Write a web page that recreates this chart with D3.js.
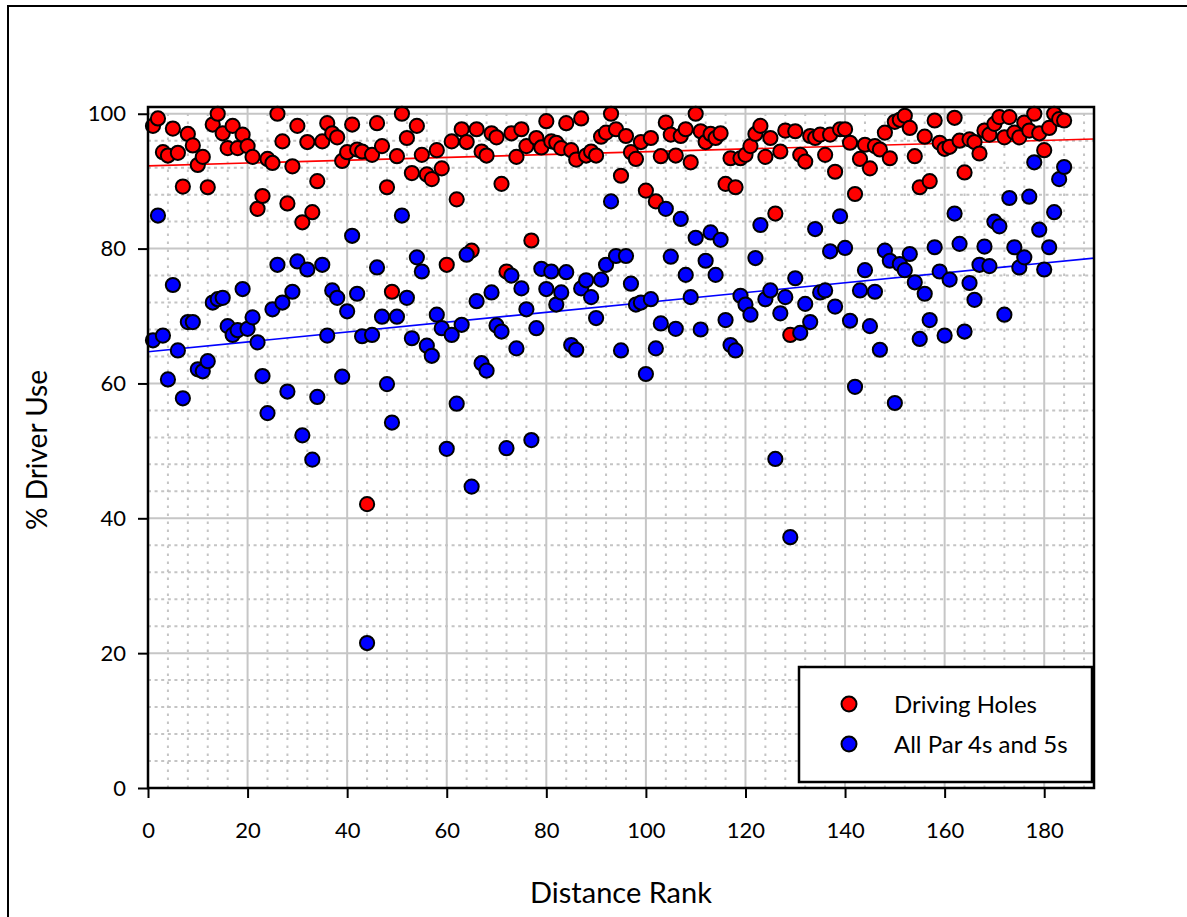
<!DOCTYPE html>
<html><head><meta charset="utf-8">
<script src="https://cdn.jsdelivr.net/npm/d3@7"></script>
<style>
body{margin:0;background:#fff}
svg{display:block}
text{font-family:Lato,"Open Sans",sans-serif;fill:#000}
</style>
</head><body>
<svg id="c" width="1187" height="917"></svg>
<script>
// ---- data ----
const ranks = d3.range(1, 185);
const drivingHoles = [
98.2,99.3,94.3,93.8,97.8,94.2,89.2,97.0,95.3,92.4,
93.6,89.1,98.4,100,97.1,94.9,98.2,94.9,96.9,95.2,
93.6,85.9,87.8,93.3,92.7,100,95.9,86.7,92.2,98.2,
83.9,95.8,85.4,90.0,95.9,98.6,97.1,96.5,93.0,94.3,
98.4,94.7,94.4,42.1,93.9,98.6,95.2,89.1,73.6,93.7,
100,96.4,91.2,98.2,93.9,91.0,90.3,94.6,91.9,77.6,
95.9,87.3,97.7,95.8,79.7,97.7,94.4,93.8,97.1,96.5,
89.6,76.6,97.1,93.6,97.7,95.2,81.2,96.4,95.0,98.9,
95.9,95.7,94.9,98.6,94.6,93.2,99.3,93.8,94.4,93.8,
96.6,97.2,100,97.7,90.8,96.7,94.3,93.3,95.8,88.6,
96.4,87.0,93.7,98.7,96.9,93.8,96.7,97.7,92.8,100,
97.4,95.8,97.0,96.4,97.1,89.6,93.4,89.1,93.4,93.9,
95.2,97.0,98.2,93.6,96.4,85.2,94.4,97.5,67.2,97.4,
93.9,92.9,96.7,96.4,96.9,93.9,96.9,91.4,97.7,97.7,
95.7,88.1,93.3,95.4,91.9,95.2,94.7,97.2,93.4,98.8,
99.1,99.7,97.9,93.7,89.1,96.6,90.0,99.0,95.7,94.8,
95.1,99.4,96.0,91.3,96.2,95.8,94.1,97.5,96.9,98.5,
99.5,96.5,99.5,97.2,96.5,98.7,97.5,100,97.1,94.6,
97.9,100,99.2,99.0];
const allPar45 = [
66.4,84.9,67.1,60.6,74.6,64.9,57.8,69.1,69.1,62.1,
61.8,63.3,72.0,72.5,72.7,68.5,67.2,67.9,74.0,68.1,
69.8,66.1,61.1,55.6,71.0,77.6,72.0,58.8,73.6,78.1,
52.3,76.9,48.7,58.0,77.6,67.1,73.8,72.7,61.0,70.7,
81.9,73.3,67.0,21.5,67.2,77.2,69.9,59.9,54.2,69.9,
84.9,72.7,66.7,78.7,76.6,65.6,64.1,70.2,68.2,50.3,
67.2,57.0,68.7,79.1,44.7,72.2,63.0,61.9,73.5,68.6,
67.7,50.4,76.0,65.2,74.1,71.0,51.6,68.2,77.0,74.0,
76.6,71.7,73.5,76.5,65.7,65.0,74.1,75.3,72.8,69.7,
75.4,77.6,87.0,78.9,64.9,78.9,74.8,71.7,72.0,61.4,
72.5,65.2,68.9,85.9,78.8,68.1,84.4,76.1,72.8,81.6,
68.0,78.2,82.4,76.1,81.3,69.4,65.7,64.9,73.0,71.7,
70.2,78.6,83.5,72.5,73.8,48.8,70.4,72.8,37.2,75.6,
67.5,71.8,69.1,82.9,73.5,73.8,79.6,71.4,84.8,80.1,
69.3,59.5,73.8,76.8,68.5,73.6,65.0,79.7,78.2,57.1,
77.7,76.8,79.2,75.0,66.6,73.3,69.4,80.2,76.6,67.1,
75.4,85.2,80.7,67.7,74.9,72.4,77.6,80.3,77.4,84.0,
83.3,70.2,87.5,80.2,77.2,78.7,87.7,92.8,82.8,76.9,
80.2,85.4,90.3,92.1];
const seriesNames = ["Driving Holes", "All Par 4s and 5s"];
const seriesColors = ["#ff0000", "#0000ff"];
const xTicks = [0,20,40,60,80,100,120,140,160,180];
const yTicks = [0,20,40,60,80,100];
const xMinor = d3.range(4, 190, 4).filter(v => v % 20 !== 0);
const yMinor = d3.range(4, 101, 4).filter(v => v % 20 !== 0);
const xDomain = [0, 190], yDomain = [0, 101];

// ---- layout ----
const svg = d3.select("#c");
const L = 148, R = 1094, T = 107, B = 788;
const x = d3.scaleLinear().domain(xDomain).range([L, R]);
const y = d3.scaleLinear().domain(yDomain).range([B, T]);

// outer border
svg.append("rect").attr("x", 8).attr("y", 6).attr("width", 1200).attr("height", 1000)
  .attr("fill", "none").attr("stroke", "#000").attr("stroke-width", 2);

// grid minor
const g = svg.append("g");
g.selectAll(".hm").data(yMinor).join("line")
  .attr("x1", L).attr("x2", R).attr("y1", d => y(d)).attr("y2", d => y(d))
  .attr("stroke", "#c4c4c4").attr("stroke-width", 2).attr("stroke-dasharray", "3,3.6");
g.selectAll(".vm").data(xMinor).join("line")
  .attr("y1", B).attr("y2", T).attr("x1", d => x(d)).attr("x2", d => x(d))
  .attr("stroke", "#c4c4c4").attr("stroke-width", 2).attr("stroke-dasharray", "2.5,5.5");
// grid major
g.selectAll(".hM").data(yTicks.filter(v => v > 0)).join("line")
  .attr("x1", L).attr("x2", R).attr("y1", d => y(d)).attr("y2", d => y(d))
  .attr("stroke", "#c6c6c6").attr("stroke-width", 2);
g.selectAll(".vM").data(xTicks.filter(v => v > 0)).join("line")
  .attr("y1", B).attr("y2", T).attr("x1", d => x(d)).attr("x2", d => x(d))
  .attr("stroke", "#c6c6c6").attr("stroke-width", 2);

// axes
const xa = svg.append("g").attr("transform", `translate(0,${B})`)
  .call(d3.axisBottom(x).tickValues(xTicks).tickSize(10).tickPadding(24).tickFormat(d3.format("d")));
const ya = svg.append("g").attr("transform", `translate(${L},0)`)
  .call(d3.axisLeft(y).tickValues(yTicks).tickSize(10).tickPadding(12).tickFormat(d3.format("d")));
[xa, ya].forEach(a => {
  a.select(".domain").remove();
  a.selectAll(".tick line").attr("stroke", "#000").attr("stroke-width", 2);
  a.selectAll(".tick text").attr("font-size", 22).attr("font-family", "Lato");
});

// regression lines
function fit(xs, ys) {
  const mx = d3.mean(xs), my = d3.mean(ys);
  const sxy = d3.sum(xs, (v, i) => (v - mx) * (ys[i] - my));
  const sxx = d3.sum(xs, v => (v - mx) * (v - mx));
  const b = sxy / sxx; return {a: my - b * mx, b};
}
const series = [drivingHoles, allPar45];
svg.append("clipPath").attr("id", "pc").append("rect")
  .attr("x", L).attr("y", T).attr("width", R - L).attr("height", B - T);
series.forEach((vals, si) => {
  const f = fit(ranks, vals);
  svg.append("line").attr("clip-path", "url(#pc)")
    .attr("x1", x(xDomain[0])).attr("y1", y(f.a + f.b * xDomain[0]))
    .attr("x2", x(xDomain[1])).attr("y2", y(f.a + f.b * xDomain[1]))
    .attr("stroke", seriesColors[si]).attr("stroke-width", 1.6);
});

// points
series.forEach((vals, si) => {
  svg.append("g").selectAll("circle").data(vals).join("circle")
    .attr("cx", (d, i) => x(ranks[i])).attr("cy", d => y(d)).attr("r", 7.1)
    .attr("fill", seriesColors[si]).attr("stroke", "#000").attr("stroke-width", 2);
});

// frame
svg.append("rect").attr("x", L).attr("y", T).attr("width", R - L).attr("height", B - T)
  .attr("fill", "none").attr("stroke", "#000").attr("stroke-width", 2.5);

// legend
const lg = svg.append("g");
lg.append("rect").attr("x", 799).attr("y", 667).attr("width", 293).attr("height", 115)
  .attr("fill", "#fff").attr("stroke", "#000").attr("stroke-width", 2.5);
seriesNames.forEach((name, i) => {
  lg.append("circle").attr("cx", 849).attr("cy", 704 + i * 40).attr("r", 7.5)
    .attr("fill", seriesColors[i]).attr("stroke", "#000").attr("stroke-width", 2);
  lg.append("text").attr("x", 894).attr("y", 713 + i * 40).attr("font-size", 24).text(name);
});

// axis titles
svg.append("text").attr("x", 621).attr("y", 903).attr("text-anchor", "middle")
  .attr("font-size", 29).text("Distance Rank");
svg.append("text").attr("transform", "translate(47,450) rotate(-90)").attr("text-anchor", "middle")
  .attr("font-size", 28).text("% Driver Use");
</script>
</body></html>
